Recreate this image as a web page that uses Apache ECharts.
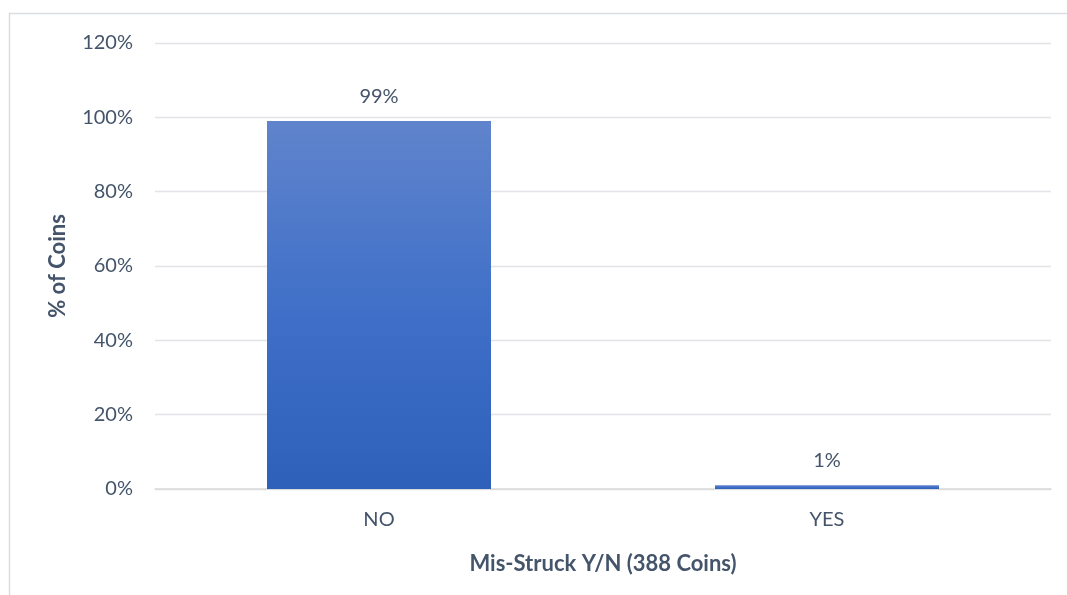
<!DOCTYPE html>
<html>
<head>
<meta charset="utf-8">
<script src="https://cdn.jsdelivr.net/npm/echarts@6/dist/echarts.min.js"></script>
<style>
  html, body { margin: 0; padding: 0; background: #ffffff; }
  #chart { width: 1067px; height: 595px; }
</style>
</head>
<body>
<div id="chart"></div>
<script>
// Share of coins by mis-strike status
const categories = ['NO', 'YES'];
const percentValues = [99, 1];
const yTicks = [0, 20, 40, 60, 80, 100, 120];

const textColor = '#44546a';
const fontFamily = 'Lato, "Open Sans", "Liberation Sans", sans-serif';

const chart = echarts.init(document.getElementById('chart'), null, { renderer: 'canvas' });

chart.setOption({
  backgroundColor: '#ffffff',
  animation: false,
  graphic: [{
    type: 'rect',
    shape: { x: 9.5, y: 13.5, width: 1080, height: 620 },
    style: { fill: 'none', stroke: '#d9dde3', lineWidth: 1.5 },
    silent: true
  }],
  grid: { left: 155, right: 16, top: 43, bottom: 106 },
  xAxis: {
    type: 'category',
    data: categories,
    name: 'Mis-Struck Y/N (388 Coins)',
    nameLocation: 'middle',
    nameGap: 64,
    nameTextStyle: { color: textColor, fontSize: 22, fontWeight: 'bold', fontFamily },
    axisLine: { lineStyle: { color: '#d9d9d9', width: 1.5 } },
    axisTick: { show: false },
    axisLabel: { color: textColor, fontSize: 20, fontFamily, margin: 21 }
  },
  yAxis: {
    type: 'value',
    min: yTicks[0],
    max: yTicks[yTicks.length - 1],
    interval: yTicks[1] - yTicks[0],
    name: '% of Coins',
    nameLocation: 'middle',
    nameGap: 86,
    nameTextStyle: { color: textColor, fontSize: 22, fontWeight: 'bold', fontFamily },
    axisLine: { show: false },
    axisTick: { show: false },
    splitLine: { lineStyle: { color: '#e1e4e8', width: 1.3 } },
    axisLabel: {
      color: textColor, fontSize: 20, fontFamily, margin: 22,
      formatter: v => v + '%'
    }
  },
  series: [{
    type: 'bar',
    data: percentValues,
    barWidth: '50%',
    itemStyle: {
      color: new echarts.graphic.LinearGradient(0, 0, 0, 1, [
        { offset: 0, color: '#6084cc' },
        { offset: 0.5, color: '#4070c8' },
        { offset: 1, color: '#2e60ba' }
      ])
    },
    label: {
      show: true,
      position: 'top',
      distance: 15,
      color: textColor,
      fontSize: 20,
      fontFamily,
      formatter: p => p.value + '%'
    }
  }]
});
</script>
</body>
</html>
